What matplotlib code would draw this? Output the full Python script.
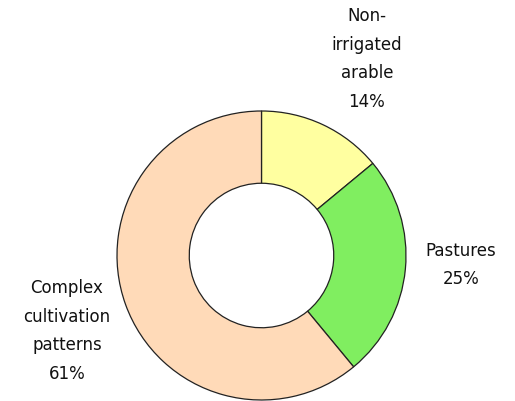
import matplotlib
matplotlib.use("Agg")
import matplotlib.pyplot as plt

categories = ["Non-\nirrigated\narable", "Pastures", "Complex\ncultivation\npatterns"]
shares = [14, 25, 61]
colors = ["#FFFFA0", "#80EE60", "#FFDAB8"]

W, H = 515, 401
fig = plt.figure(figsize=(W / 100, H / 100), dpi=100)
ax = fig.add_axes([0, 0, 1, 1])
ax.set_aspect("equal")
ax.axis("off")

# ring geometry in pixels (origin bottom-left)
cx, cy, r = 261.5, H - 255.5, 144.5
wedges, _ = ax.pie(shares, colors=colors, startangle=90, counterclock=False,
                   center=(cx, cy), radius=r,
                   wedgeprops=dict(width=r * 0.5, edgecolor="#222222", linewidth=0.9))
ax.set_xlim(0, W)
ax.set_ylim(0, H)

# label block centres (pixels from top-left)
label_pos = [(367, 59), (461, 265), (67, 331)]
for cat, val, (px, py) in zip(categories, shares, label_pos):
    ax.text(px, H - py, f"{cat}\n{val}%", ha="center", va="center",
            fontsize=12, linespacing=1.75, color="#111111")

fig.savefig("out.png", dpi=100)
